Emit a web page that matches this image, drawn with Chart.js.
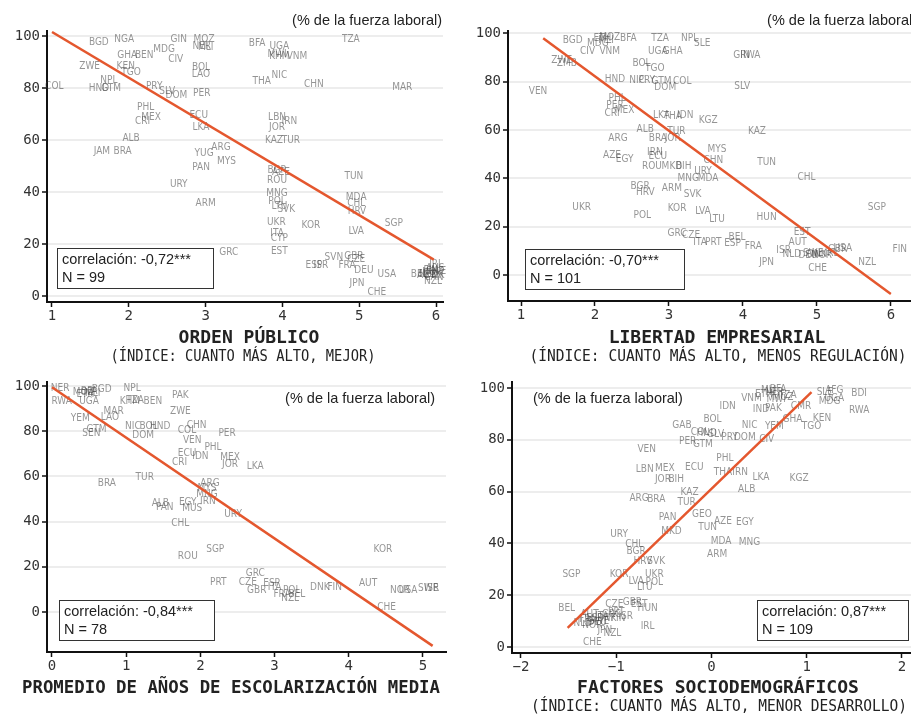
<!DOCTYPE html>
<html>
<head>
<meta charset="utf-8">
<script src="https://cdn.jsdelivr.net/npm/chart.js@4.4.1/dist/chart.umd.min.js"></script>
<style>
  html, body { margin: 0; padding: 0; background: #fff; overflow: hidden; width: 911px; height: 714px; }
  canvas { position: absolute; }
</style>
</head>
<body>
<canvas id="c3" width="455" height="357" style="left:0;top:357px"></canvas>
<canvas id="c4" width="465" height="357" style="left:455px;top:357px"></canvas>
<canvas id="c1" width="455" height="372" style="left:0;top:0"></canvas>
<canvas id="c2" width="465" height="372" style="left:455px;top:0"></canvas>
<script>
// --- datos: orden público ---
const ordenCodes = ['BGD','NGA','GIN','MOZ','NER','MLI','BFA','UGA','KHM','VNM','MWI','TZA','GHA','BEN','MDG','CIV','ZWE','KEN','TGO','BOL','LAO','THA','NIC','CHN','MAR','COL','HND','GTM','NPL','PRY','SLV','DOM','PER','PHL','MEX','CRI','ECU','LKA','LBN','IRN','JOR','ALB','JAM','BRA','KAZ','TUR','ARG','YUG','MYS','PAN','BGR','AZE','ROU','TUN','URY','MNG','MDA','CHL','ARM','POL','SVK','LTU','HRV','SGP','UKR','KOR','LVA','ITA','CYP','GRC','EST','ESP','ISR','SVN','GBR','CZE','FRA','DEU','USA','JPN','CHE','NZL','NOR','DNK','FIN','SWE','NLD','AUT','CAN','AUS','IRL','BEL'];
const ordenX = [1.61,1.94,2.65,2.98,2.95,3.0,3.67,3.96,3.96,4.19,3.93,4.89,1.98,2.2,2.46,2.61,1.49,1.96,2.03,2.94,2.94,3.73,3.96,4.41,5.56,1.03,1.61,1.77,1.74,2.33,2.5,2.62,2.95,2.22,2.29,2.18,2.91,2.94,3.93,4.09,3.93,2.03,1.65,1.92,3.89,4.11,3.2,2.98,3.27,2.94,3.93,3.98,3.93,4.93,2.65,3.93,4.96,4.96,3.0,3.93,4.05,3.96,4.97,5.45,3.92,4.37,4.96,3.93,3.96,3.3,3.96,4.41,4.5,4.67,4.93,4.96,4.84,5.06,5.36,4.97,5.23,5.96,5.95,5.98,5.93,6.0,5.9,5.87,5.97,5.99,6.0,5.78];
const ordenY = [97.7,98.8,98.8,98.8,96,95.5,97.3,95.8,92,92,93,98.8,92.7,92.7,95,91,88.4,88.4,86,88,85.2,82.6,85,81.5,80.3,80.7,79.9,80,83,80.7,78.5,77,78,72.6,68.6,67,69.5,65,68.8,67,64.8,60.5,55.6,55.6,59.8,59.8,57.2,54.8,51.7,49.5,48.3,47.5,44.4,45.9,42.9,39.4,37.8,35.5,35.5,36.5,33.2,34.5,32.4,27.8,28.2,27,24.7,24,22,16.6,17,11.6,11.6,14.7,15.4,14,11.6,9.7,8.5,5,1.5,5.5,9,8,10,9.5,8.5,8,7,10.5,12,8.5];
const ordenFit = [[1.0, 101.5], [5.97, 14.0]];

// --- datos: libertad empresarial ---
const libCodes = ['BGD','ETH','MOZ','MLI','BFA','TZA','NPL','SLE','MDG','CIV','VNM','UGA','GHA','GIN','RWA','ZWE','ZMB','BOL','TGO','HND','NIC','PRY','GTM','COL','DOM','SLV','VEN','PHL','PER','MEX','CRI','LKA','IDN','KGZ','THA','ALB','TUR','KAZ','ARG','BRA','JOR','MYS','AZE','EGY','IRN','ECU','TUN','ROU','MKD','BIH','URY','CHN','MNG','MDA','CHL','BGR','HRV','ARM','SVK','UKR','KOR','POL','LVA','LTU','HUN','SGP','GRC','CZE','BEL','ITA','PRT','ESP','FRA','EST','AUT','NLD','DEU','NOR','SWE','DNK','ISR','GBR','JPN','CHE','NZL','FIN','IRL','USA'];
const libX = [1.7,2.1,2.2,2.15,2.45,2.88,3.28,3.45,2.04,1.9,2.2,2.85,3.05,3.98,4.1,1.55,1.62,2.63,2.81,2.27,2.57,2.7,2.9,3.18,2.95,3.99,1.23,2.3,2.27,2.4,2.23,2.9,3.22,3.53,3.05,2.68,3.1,4.19,2.31,2.85,3.05,3.65,2.23,2.4,2.81,2.85,4.32,2.77,3.04,3.2,3.46,3.6,3.26,3.53,4.86,2.61,2.68,3.04,3.32,1.82,3.11,2.64,3.46,3.65,4.32,5.81,3.11,3.3,3.92,3.42,3.6,3.86,4.14,4.8,4.74,4.66,4.88,5.07,4.95,5.0,4.55,5.28,4.32,5.01,5.68,6.12,5.2,5.35];
const libY = [97,98,98.5,97,98,98,98,96,96,92.5,92.5,92.5,92.5,91,91,89,87.5,87.5,85.4,81,80.5,80.5,80,80,77.8,78.2,75.8,72.9,70,68,66.7,66,66,63.8,65.5,60.4,59.6,59.6,56.6,56.6,56.6,52,49.6,48,50.8,49,46.6,45,45,45,43,47.5,40,40,40.4,36.7,34,35.8,33.3,27.9,27.5,24.6,26.3,22.9,23.8,27.9,17,16.5,15.4,13.3,13.5,12.9,11.7,17.5,13.3,8.3,7.9,8,9,8.5,10,10.4,5,2.5,5,10.4,9,11];
const libFit = [[1.3, 98.0], [6.0, -7.9]];

// --- datos: años de escolarización ---
const escCodes = ['NER','MOZ','BFA','MLI','ETH','BGD','NPL','RWA','UGA','KHM','TZA','BEN','PAK','ZWE','YEM','MAR','LAO','SEN','GTM','NIC','HND','BOL','DOM','CHN','COL','PER','VEN','PHL','ECU','IDN','MEX','CRI','JOR','LKA','BRA','TUR','ARG','MYS','MNG','IRN','EGY','ALB','PAN','MUS','URY','CHL','SGP','ROU','KOR','PRT','GRC','CZE','GBR','ESP','POL','NZL','BEL','DNK','FIN','AUT','NOR','USA','SWE','ISR','CHE','ITA','FRA'];
const escX = [0.11,0.42,0.5,0.55,0.45,0.67,1.08,0.13,0.5,1.05,1.12,1.36,1.73,1.73,0.38,0.83,0.78,0.53,0.6,1.09,1.46,1.3,1.23,1.95,1.82,2.36,1.89,2.17,1.82,2.0,2.4,1.72,2.4,2.74,0.74,1.25,2.13,2.09,2.09,2.1,1.83,1.46,1.52,1.89,2.44,1.73,2.2,1.83,4.46,2.24,2.74,2.64,2.76,2.96,3.23,3.21,3.3,3.61,3.81,4.26,4.69,4.8,5.07,5.12,4.51,3.0,3.1];
const escY = [99.1,97.3,97.8,96.8,96.2,98.7,99,93,93,93,93.5,93,96,88.6,85.8,88.6,86,79,81,82,82,82,78.3,82.7,80.5,79.2,76.1,73,70.4,69,68.6,66.4,65.5,64.6,57,59.7,57,54.9,52.2,49.1,48.7,48.2,46.5,46,43.4,39.4,27.9,24.8,27.9,13.3,17.3,13.3,9.7,12.8,9.7,6.2,8,11,11,12.8,9.7,9.7,10.6,10.6,2.2,11,8];
const escFit = [[0.0, 99.5], [5.13, -15.0]];

// --- datos: factores sociodemográficos ---
const socCodes = ['NER','MLI','BFA','ETH','MOZ','MWI','TZA','AFG','SLE','BDI','UGA','MDG','RWA','VNM','IDN','IND','PAK','CMR','KEN','TGO','GHA','BOL','NIC','YEM','GAB','COL','HND','SLV','PRY','DOM','CIV','PER','GTM','VEN','PHL','LBN','MEX','ECU','THA','IRN','JOR','BIH','LKA','KGZ','ALB','KAZ','ARG','BRA','TUR','PAN','GEO','AZE','EGY','MKD','TUN','URY','CHL','MDA','MNG','BGR','ARM','HRV','SVK','SGP','KOR','UKR','LVA','POL','LTU','GBR','EST','CZE','HUN','BEL','ESP','ITA','FRA','DEU','AUT','NLD','SWE','DNK','NOR','GRC','PRT','FIN','ISR','IRL','NZL','JPN','CHE'];
const socX = [0.66,0.6,0.7,0.55,0.75,0.68,0.8,1.29,1.19,1.55,1.29,1.24,1.55,0.42,0.17,0.52,0.65,0.94,1.16,1.05,0.85,0.01,0.4,0.66,-0.31,-0.12,-0.05,0.05,0.19,0.35,0.58,-0.25,-0.09,-0.68,0.14,-0.7,-0.49,-0.18,0.12,0.3,-0.51,-0.37,0.52,0.92,0.37,-0.23,-0.76,-0.58,-0.26,-0.46,-0.1,0.12,0.35,-0.42,-0.04,-0.97,-0.81,0.1,0.4,-0.79,0.06,-0.72,-0.58,-1.47,-0.97,-0.6,-0.79,-0.6,-0.7,-0.83,-0.76,-1.02,-0.67,-1.52,-1.23,-1.15,-1.3,-1.2,-1.28,-1.35,-1.18,-1.1,-1.25,-1.05,-1.0,-0.98,-0.9,-0.67,-1.04,-1.12,-1.25];
const socY = [98.4,99,99.5,97.5,96.5,95.5,97,99.2,98.4,98,96.1,95,91.5,96.1,93,91.9,92,93,88.4,85.3,88,88,85.7,85.3,85.7,83,82.5,82,81,81,80.2,79.5,78.3,76.4,72.9,68.6,69,69.4,67.4,67.4,64.7,64.7,65.5,65.1,60.9,59.7,57.4,57,55.8,50,51.2,48.4,48.1,44.6,46.1,43.4,39.5,40.7,40.3,36.8,35.7,32.9,32.9,27.9,27.9,27.9,25.2,24.8,22.9,17.4,16.5,16.3,15.1,15.1,11.2,12,10.5,9.5,12.5,9,10,11,8.5,12.5,13.5,11,12,7.8,5.4,6.5,1.6];
const socFit = [[-1.51, 7.4], [1.05, 98.4]];

const yTicksPct = [0, 20, 40, 60, 80, 100];

const MONO = '"DejaVu Sans Mono", monospace';
const SANS = '"Liberation Sans", Arial, sans-serif';
const NARROW = '"Liberation Sans Narrow", "DejaVu Sans Condensed", sans-serif';
const FIT_COLOR = '#e4572e';

function decorPlugin(p) {
  return {
    id: 'decor',
    beforeDatasetsDraw(chart) {
      const { ctx, scales } = chart;
      const pts = chart.data.datasets[0].data;
      ctx.save();
      ctx.font = '10px ' + NARROW;
      ctx.fillStyle = 'rgba(60,60,60,0.55)';
      ctx.textAlign = 'center';
      ctx.textBaseline = 'middle';
      pts.forEach(d => {
        ctx.fillText(d.code, scales.x.getPixelForValue(d.x), scales.y.getPixelForValue(d.y));
      });
      ctx.restore();
    },
    afterDraw(chart) {
      const ctx = chart.ctx;
      ctx.save();
      ctx.fillStyle = '#222';
      ctx.textBaseline = 'middle';
      // nota de unidades
      ctx.font = '14.5px ' + SANS;
      ctx.textAlign = p.note.align;
      ctx.fillText('(% de la fuerza laboral)', p.note.x, p.note.y);
      // caja de correlación
      const b = p.box;
      ctx.fillStyle = '#fff';
      ctx.fillRect(b.x, b.y, b.w, b.h);
      ctx.strokeStyle = '#333';
      ctx.lineWidth = 1;
      ctx.strokeRect(b.x + 0.5, b.y + 0.5, b.w, b.h);
      ctx.fillStyle = '#222';
      ctx.textAlign = 'left';
      ctx.font = '14.5px ' + SANS;
      ctx.fillText('correlación: ' + p.corr, b.x + 5, b.y + 12);
      ctx.fillText('N = ' + p.n, b.x + 5, b.y + 30);
      // títulos del eje x
      ctx.textAlign = 'center';
      ctx.font = 'bold 18px ' + MONO;
      ctx.fillText(p.title.text, p.title.x, p.title.y, p.title.w);
      if (p.sub) {
        ctx.font = '15px ' + MONO;
        ctx.fillText(p.sub.text, p.sub.x, p.sub.y, p.sub.w);
      }
      ctx.restore();
    }
  };
}

function makePanel(id, codes, xs, ys, fit, p) {
  const canvas = document.getElementById(id);
  const W = canvas.width, H = canvas.height;
  const pts = codes.map((c, i) => ({ x: xs[i], y: ys[i], code: c }));
  new Chart(canvas, {
    type: 'scatter',
    data: {
      datasets: [
        { data: pts, pointRadius: 0, pointHoverRadius: 0 },
        {
          data: fit.map(f => ({ x: f[0], y: f[1] })),
          showLine: true,
          borderColor: FIT_COLOR,
          borderWidth: 2.5,
          pointRadius: 0,
          fill: false
        }
      ]
    },
    options: {
      responsive: false,
      animation: false,
      events: [],
      layout: { padding: { left: 0, top: p.area.t, right: W - p.area.r, bottom: 0 } },
      plugins: { legend: { display: false }, tooltip: { enabled: false } },
      scales: {
        x: {
          type: 'linear',
          min: p.xr[0], max: p.xr[1],
          afterFit(s) { s.height = H - p.area.b; },
          border: { color: '#111', width: 2 },
          grid: { drawOnChartArea: false, tickColor: '#111', tickLength: 5, tickWidth: 1.5 },
          ticks: {
            stepSize: 1, includeBounds: false, padding: 1,
            color: '#333', font: { family: MONO, size: 14 },
            callback: v => (v < 0 ? '\u2212' + Math.abs(v) : String(v))
          }
        },
        y: {
          type: 'linear',
          min: p.yr[0], max: p.yr[1],
          afterFit(s) { s.width = p.area.l; },
          afterBuildTicks(s) { s.ticks = yTicksPct.map(v => ({ value: v })); },
          border: { color: '#111', width: 2 },
          grid: { color: 'rgba(0,0,0,0.07)', lineWidth: 2, tickColor: '#111', tickLength: 5, tickWidth: 1.5 },
          ticks: { padding: 2, color: '#333', font: { family: MONO, size: 14 } }
        }
      }
    },
    plugins: [decorPlugin(p)]
  });
}

makePanel('c1', ordenCodes, ordenX, ordenY, ordenFit, {
  area: { l: 47, t: 31, r: 443, b: 302 }, xr: [0.935, 6.09], yr: [-2.3, 101.9],
  note: { x: 442, y: 21, align: 'right' },
  box: { x: 57, y: 248, w: 156, h: 40 }, corr: '-0,72***', n: 99,
  title: { text: 'ORDEN PÚBLICO', x: 249, y: 338, w: 146 },
  sub: { text: '(ÍNDICE: CUANTO MÁS ALTO, MEJOR)', x: 243, y: 357, w: 265 }
});

makePanel('c2', libCodes, libX, libY, libFit, {
  area: { l: 53, t: 31, r: 461, b: 301 }, xr: [0.824, 6.34], yr: [-10.8, 101],
  note: { x: 462, y: 21, align: 'right' },
  box: { x: 70, y: 249, w: 159, h: 40 }, corr: '-0,70***', n: 101,
  title: { text: 'LIBERTAD EMPRESARIAL', x: 262, y: 338, w: 227 },
  sub: { text: '(ÍNDICE: CUANTO MÁS ALTO, MENOS REGULACIÓN)', x: 263, y: 357, w: 377 }
});

makePanel('c3', escCodes, escX, escY, escFit, {
  area: { l: 47, t: 25, r: 446, b: 295 }, xr: [-0.067, 5.31], yr: [-17.7, 101.8],
  note: { x: 435, y: 42, align: 'right' },
  box: { x: 59, y: 243, w: 155, h: 40 }, corr: '-0,84***', n: 78,
  title: { text: 'PROMEDIO DE AÑOS DE ESCOLARIZACIÓN MEDIA', x: 231, y: 331, w: 418 },
  sub: null
});

makePanel('c4', socCodes, socX, socY, socFit, {
  area: { l: 57, t: 25, r: 461, b: 296 }, xr: [-2.094, 2.147], yr: [-2.3, 102.3],
  note: { x: 78, y: 42, align: 'left' },
  box: { x: 302, y: 243, w: 151, h: 40 }, corr: '0,87***', n: 109,
  title: { text: 'FACTORES SOCIODEMOGRÁFICOS', x: 263, y: 331, w: 300 },
  sub: { text: '(ÍNDICE: CUANTO MÁS ALTO, MENOR DESARROLLO)', x: 264, y: 350, w: 376 }
});
</script>
</body>
</html>
